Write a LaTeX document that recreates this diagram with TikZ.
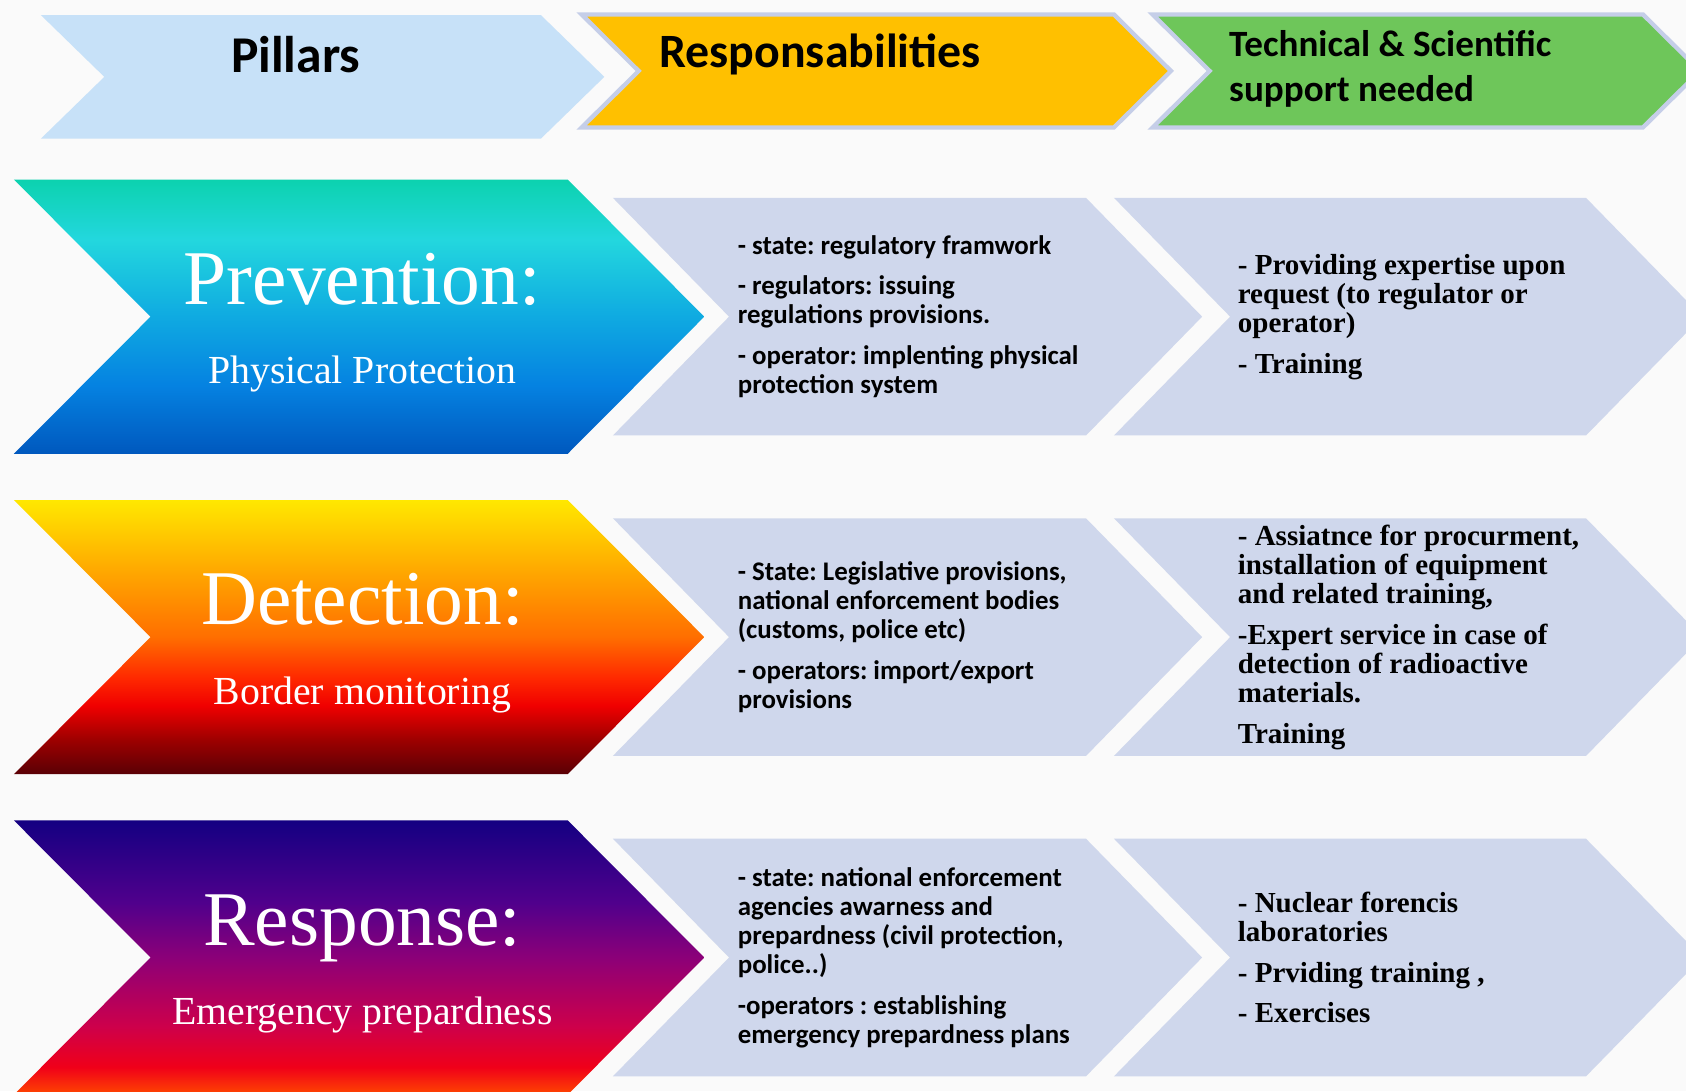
\documentclass[tikz,border=0pt]{standalone}
\usepackage{fontspec}
\setmainfont{Liberation Serif}
\newfontfamily\calib{Carlito}
\frenchspacing

% palette
\definecolor{pageBg}{RGB}{250,250,250}
\definecolor{paleBlue}{RGB}{199,225,248}
\definecolor{gold}{RGB}{255,192,0}
\definecolor{leaf}{RGB}{110,198,90}
\definecolor{rim}{RGB}{197,206,232}
\definecolor{slate}{RGB}{207,215,236}

% prevention: teal -> cyan -> blue
\definecolor{pvA}{RGB}{12,210,175}
\definecolor{pvB}{RGB}{35,215,222}
\definecolor{pvC}{RGB}{15,170,225}
\definecolor{pvD}{RGB}{5,130,225}
\definecolor{pvE}{RGB}{0,88,190}
% detection: yellow -> orange -> red -> maroon
\definecolor{dtA}{RGB}{255,232,0}
\definecolor{dtB}{RGB}{255,170,0}
\definecolor{dtC}{RGB}{255,110,0}
\definecolor{dtD}{RGB}{255,40,0}
\definecolor{dtE}{RGB}{240,0,0}
\definecolor{dtF}{RGB}{160,0,0}
\definecolor{dtG}{RGB}{90,0,5}
% response: navy -> purple -> magenta -> red -> orange
\definecolor{rsA}{RGB}{20,0,130}
\definecolor{rsB}{RGB}{80,0,140}
\definecolor{rsC}{RGB}{140,0,120}
\definecolor{rsD}{RGB}{205,0,75}
\definecolor{rsE}{RGB}{240,0,25}
\definecolor{rsF}{RGB}{255,70,0}

\pgfdeclareverticalshading{prevShade}{100bp}{color(0bp)=(pvE); color(25bp)=(pvE);
  color(37.5bp)=(pvD); color(50bp)=(pvC); color(64bp)=(pvB); color(75bp)=(pvA); color(100bp)=(pvA)}
\pgfdeclareverticalshading{detShade}{100bp}{color(0bp)=(dtG); color(25bp)=(dtG);
  color(31.5bp)=(dtF); color(37.5bp)=(dtE); color(42.5bp)=(dtD); color(50bp)=(dtC);
  color(62.5bp)=(dtB); color(75bp)=(dtA); color(100bp)=(dtA)}
\pgfdeclareverticalshading{respShade}{100bp}{color(0bp)=(rsF); color(25bp)=(rsF);
  color(30bp)=(rsE); color(37.5bp)=(rsD); color(50bp)=(rsC); color(60bp)=(rsB);
  color(75bp)=(rsA); color(100bp)=(rsA)}

% chevron: [style]{left}{top}{right}{bottom}{tip depth}
\newcommand\chevron[6]{%
  \path[#1] (#2,#3) -- (#4,#3) -- ({#4+#6},{(#3+#5)/2}) -- (#4,#5)
    -- (#2,#5) -- ({#2+#6},{(#3+#5)/2}) -- cycle;}

\tikzset{
  pillar/.style={text=white, anchor=base, inner sep=0pt,
    font=\fontsize{72}{72}\selectfont},
  pillarsub/.style={text=white, anchor=base, inner sep=0pt,
    font=\fontsize{37}{37}\selectfont},
  duty/.style={anchor=west, align=left, inner sep=0pt,
    font=\calib\bfseries\fontsize{25}{27}\selectfont},
  support/.style={anchor=west, align=left, inner sep=0pt,
    font=\bfseries\fontsize{27}{27}\selectfont},
  head/.style={inner sep=0pt, font=\calib\bfseries},
  slatebox/.style={fill=slate},
}

\begin{document}
\begin{tikzpicture}[x=1pt,y=-1pt]
\useasboundingbox (0,0) rectangle (1568,1015);
\clip (0,0) rectangle (1568,1015);
\fill[pageBg] (0,0) rectangle (1568,1015);

% header band
\chevron{fill=paleBlue}{38}{14}{503}{129}{59}
\chevron{fill=gold, draw=rim, line width=4pt, line join=miter}{541}{13.5}{1036}{118.5}{53}
\chevron{fill=leaf, draw=rim, line width=4pt, line join=miter}{1072}{13.5}{1528}{118.5}{53}
\node[head, font=\calib\bfseries\fontsize{48}{48}\selectfont, anchor=base] (hPillars) at (275,67) {Pillars};
\node[head, font=\calib\bfseries\fontsize{44.5}{44.5}\selectfont, anchor=base west] (hResp) at (613,63) {Responsabilities};
\node[head, font=\calib\bfseries\fontsize{34.5}{42}\selectfont, anchor=north west, align=left] (hTech) at (1143,28)
  {Technical \& Scientific\\support needed};

% row 1: prevention
\chevron{shade, shading=prevShade}{13}{167}{528}{422}{127}
\chevron{slatebox}{570}{184}{1010}{405}{108}
\chevron{slatebox}{1036}{184}{1475}{405}{108}
\node[pillar] (prev) at (337,283) {Prevention:};
\node[pillarsub] (prevSub) at (337,357) {Physical Protection};
\node[duty] (prevDuty) at (686,294.5) {- state: regulatory framwork\\[11pt]
  - regulators: issuing\\regulations provisions.\\[11pt]
  - operator: implenting physical\\protection system};
\node[support] (prevSupp) at (1151,294.5) {- Providing expertise upon\\request (to regulator or\\operator)\\[11pt]
  - Training};

% row 2: detection
\chevron{shade, shading=detShade}{13}{465}{528}{720}{127}
\chevron{slatebox}{570}{482}{1010}{703}{108}
\chevron{slatebox}{1036}{482}{1475}{703}{108}
\node[pillar] (det) at (337,581) {Detection:};
\node[pillarsub] (detSub) at (337,655) {Border monitoring};
\node[duty] (detDuty) at (686,592.5) {- State: Legislative provisions,\\national enforcement bodies\\(customs, police etc)\\[11pt]
  - operators: import/export\\provisions};
\node[support] (detSupp) at (1151,592.5) {- Assiatnce for procurment,\\installation of equipment\\and related training,\\[11pt]
  -Expert service in case of\\detection of radioactive\\materials.\\[11pt]
  Training};

% row 3: response
\chevron{shade, shading=respShade}{13}{763}{528}{1018}{127}
\chevron{slatebox}{570}{780}{1010}{1001}{108}
\chevron{slatebox}{1036}{780}{1475}{1001}{108}
\node[pillar] (resp) at (337,879) {Response:};
\node[pillarsub] (respSub) at (337,953) {Emergency prepardness};
\node[duty] (respDuty) at (686,890.5) {- state: national enforcement\\agencies awarness and\\prepardness (civil protection,\\police..)\\[11pt]
  -operators : establishing\\emergency prepardness plans};
\node[support] (respSupp) at (1151,890.5) {- Nuclear forencis\\laboratories\\[11pt]
  - Prviding training ,\\[11pt]
  - Exercises};
\end{tikzpicture}
\end{document}
